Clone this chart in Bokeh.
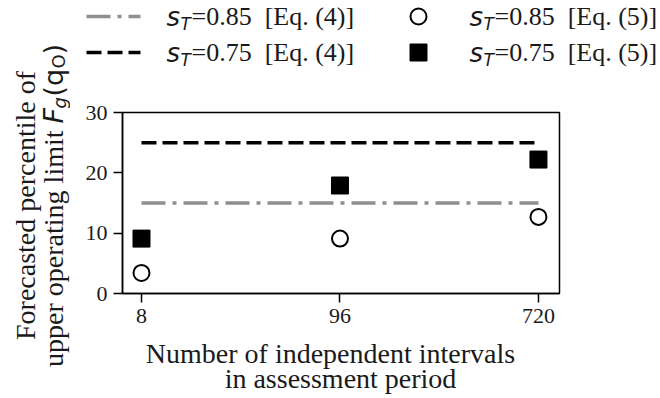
import numpy as np
from bokeh.plotting import figure
from bokeh.layouts import row, column
from bokeh.models import FixedTicker, Range1d
from bokeh.core.properties import value
from bokeh.embed import file_html
from bokeh.resources import INLINE

# ---- data ----
intervals = ["8", "96", "720"]
eq5_s085 = [3.4, 9.1, 12.7]     # open circles  (s_T = 0.85, Eq. 5)
eq5_s075 = [9.1, 17.9, 22.2]    # filled squares (s_T = 0.75, Eq. 5)
eq4_s085 = 15.0                 # dash-dot grey line (s_T = 0.85, Eq. 4)
eq4_s075 = 25.0                 # dashed black line  (s_T = 0.75, Eq. 4)
y_ticks = [0, 10, 20, 30]

xpos = list(range(len(intervals)))

SERIF = "Liberation Serif"
SANS = "DejaVu Sans"
TXT = "#1a1a1a"
GREY = "#8f8f8f"
DASH = "15 6"
DASHDOT = "24 7 4 7"
LW = 3.5
TOTAL_H = 396
LEFT_W = 70
RIGHT_W = 586
NB = "\u00a0"


def blank(w, h):
    f = figure(width=w, height=h, x_range=Range1d(0, w), y_range=Range1d(0, h),
               min_border=0, x_axis_type=None, y_axis_type=None,
               output_backend="svg", toolbar_location=None, frame_align=False)
    f.outline_line_color = None
    f.xgrid.visible = False
    f.ygrid.visible = False
    f.background_fill_color = "white"
    f.border_fill_color = "white"
    return f


def txt(f, x, y, text, font=SERIF, size=26, align="left", baseline="middle",
        angle=0.0, style="normal"):
    f.text(x=[x], y=[y], text=[text], text_font=value(font),
           text_font_size=value(f"{size}px"), text_align=value(align),
           text_baseline=value(baseline), angle=angle, text_color=TXT,
           text_font_style=value(style))


# ---------------- main plot ----------------
p = figure(frame_width=437, frame_height=181,
           min_border_left=52, min_border_right=97,
           min_border_top=12, min_border_bottom=44,
           x_range=Range1d(-0.0957, 2.106), y_range=Range1d(0, 30),
           output_backend="svg", toolbar_location=None, frame_align=False)
p.background_fill_color = "white"
p.border_fill_color = "white"
p.xgrid.visible = False
p.ygrid.visible = False
p.outline_line_color = "black"
p.outline_line_width = 1.5

for ax in (p.xaxis[0], p.yaxis[0]):
    ax.axis_line_width = 1.5
    ax.major_tick_line_width = 1.5
    ax.major_tick_out = 9
    ax.major_tick_in = 0
    ax.minor_tick_out = 0
    ax.minor_tick_in = 0
    ax.major_label_text_font = SERIF
    ax.major_label_text_font_size = "22px"
    ax.major_label_text_color = TXT
    ax.major_label_standoff = 6

p.xaxis.ticker = FixedTicker(ticks=xpos)
p.xaxis.major_label_overrides = {i: lab for i, lab in zip(xpos, intervals)}
p.yaxis.ticker = FixedTicker(ticks=y_ticks)

p.line([xpos[0], xpos[-1]], [eq4_s075, eq4_s075], line_color="black",
       line_width=LW, line_dash=DASH)
p.line([xpos[0], xpos[-1]], [eq4_s085, eq4_s085], line_color=GREY,
       line_width=LW, line_dash=DASHDOT)
p.scatter(xpos, eq5_s075, marker="square", size=17, fill_color="black",
          line_color="black", line_width=1)
p.scatter(xpos, eq5_s085, marker="circle", size=16, fill_color="white",
          line_color="black", line_width=2)

MAIN_H = 12 + 181 + 44

# ---------------- legend (top) ----------------
TOP_H = 100
top = blank(RIGHT_W, TOP_H)
R1, R2 = TOP_H - 16, TOP_H - 52


def legend_text(x0, y, rest):
    txt(top, x0, y, "s", font=SANS, size=26, style="italic")
    txt(top, x0 + 14, y - 7, "T", font=SANS, size=17, style="italic")
    txt(top, x0 + 25, y, rest)


top.line([16, 70], [R1, R1], line_color=GREY, line_width=LW, line_dash=DASHDOT)
top.line([16, 70], [R2, R2], line_color="black", line_width=LW, line_dash=DASH)
legend_text(96, R1, f"=0.85{NB} [Eq.{NB}(4)]")
legend_text(96, R2, f"=0.75{NB} [Eq.{NB}(4)]")
top.scatter([348], [R1], marker="circle", size=16, fill_color="white",
            line_color="black", line_width=2)
top.scatter([348], [R2], marker="square", size=17, fill_color="black",
            line_color="black", line_width=1)
legend_text(399, R1, f"=0.85{NB} [Eq.{NB}(5)]")
legend_text(399, R2, f"=0.75{NB} [Eq.{NB}(5)]")

# ---------------- x label (bottom) ----------------
BOT_H = TOTAL_H - TOP_H - MAIN_H
bot = blank(RIGHT_W, BOT_H)
txt(bot, 330 - LEFT_W, TOTAL_H - 353, "Number of independent intervals", size=28, align="center")
txt(bot, 340 - LEFT_W, TOTAL_H - 378, "in assessment period", size=28, align="center")

# ---------------- y label (left) ----------------
left = blank(LEFT_W, TOTAL_H)
A = np.pi / 2
txt(left, 25, TOTAL_H - 205, "Forecasted percentile of", size=28, align="center",
    baseline="alphabetic", angle=A)
BX = 53
P = 273
txt(left, BX, P, "upper operating limit ", size=28, align="right", baseline="alphabetic", angle=A)
txt(left, BX, P, "F", font=SANS, size=27, baseline="alphabetic", angle=A, style="italic")
txt(left, BX + 6, P + 15, "g", font=SANS, size=18, baseline="alphabetic", angle=A, style="italic")
txt(left, BX, P + 27, "(q", font=SANS, size=27, baseline="alphabetic", angle=A)
txt(left, BX + 5, P + 55, "O", font=SANS, size=18, baseline="alphabetic", angle=A)
txt(left, BX, P + 69, ")", font=SANS, size=27, baseline="alphabetic", angle=A)

layout = row(left, column(top, p, bot))
open("out.html", "w").write(file_html(layout, INLINE))
